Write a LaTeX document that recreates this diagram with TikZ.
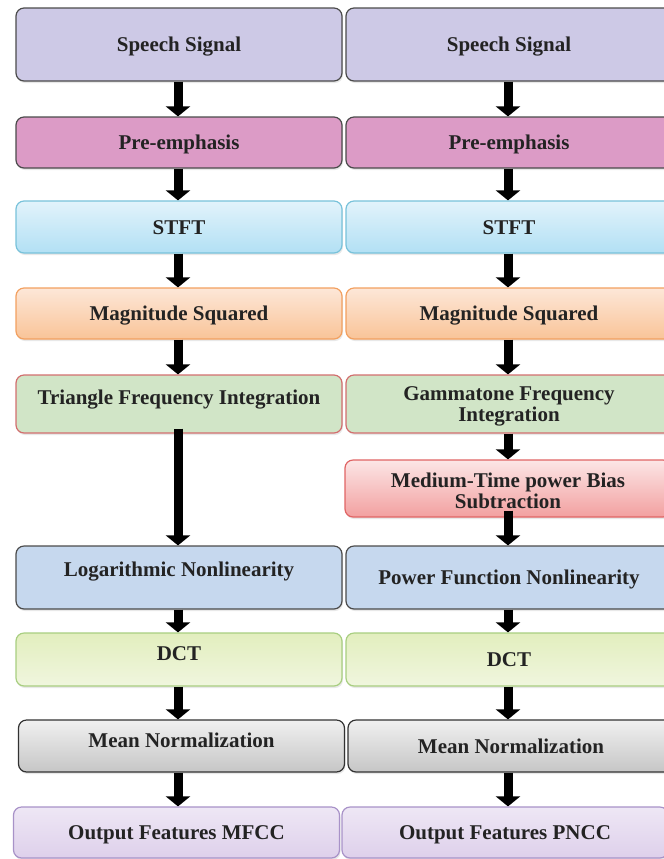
\documentclass[tikz,border=0pt]{standalone}
\usepackage{fontspec}
\setmainfont{Liberation Serif}
\usetikzlibrary{arrows.meta, shadows}

\definecolor{txtgray}{RGB}{35,35,35}
\definecolor{darkline}{RGB}{75,75,75}
\definecolor{sigfill}{RGB}{205,201,230}
\definecolor{prefill}{RGB}{220,155,198}
\definecolor{stfttop}{RGB}{226,243,251}
\definecolor{stftbot}{RGB}{178,224,244}
\definecolor{stftline}{RGB}{120,194,218}
\definecolor{magtop}{RGB}{253,231,216}
\definecolor{magbot}{RGB}{249,196,152}
\definecolor{magline}{RGB}{242,160,96}
\definecolor{intfill}{RGB}{209,229,199}
\definecolor{intline}{RGB}{210,110,110}
\definecolor{medtop}{RGB}{252,230,230}
\definecolor{medbot}{RGB}{242,160,160}
\definecolor{medline}{RGB}{224,100,100}
\definecolor{nonfill}{RGB}{198,216,238}
\definecolor{dcttop}{RGB}{226,238,190}
\definecolor{dctbot}{RGB}{240,246,222}
\definecolor{dctline}{RGB}{168,206,128}
\definecolor{meantop}{RGB}{240,240,240}
\definecolor{meanbot}{RGB}{198,198,198}
\definecolor{meanline}{RGB}{50,50,50}
\definecolor{outtop}{RGB}{238,231,245}
\definecolor{outbot}{RGB}{222,208,235}
\definecolor{outline}{RGB}{168,146,200}

\begin{document}
\begin{tikzpicture}[
  x=0.5pt, y=-0.5pt,
  boxnode/.style={draw, rounded corners=4pt, line width=0.6pt, minimum width=163pt, inner sep=2pt, align=center, text=txtgray, font=\fontsize{10.5}{10.5}\selectfont\bfseries, drop shadow={opacity=0.18, shadow xshift=0.5pt, shadow yshift=-1pt}},
  oneline/.style={text height=7pt, text depth=#1},
  oneline/.default=0pt,
  twoline/.style={text height=#1, text depth=0pt},
  twoline/.default=17.5pt,
  sigbox/.style={boxnode, fill=sigfill, draw=darkline, minimum height=36.5pt},
  prebox/.style={boxnode, fill=prefill, draw=darkline, minimum height=25.5pt},
  stftbox/.style={boxnode, top color=stfttop, bottom color=stftbot, draw=stftline, minimum height=26pt},
  magbox/.style={boxnode, top color=magtop, bottom color=magbot, draw=magline, minimum height=25.5pt},
  intbox/.style={boxnode, fill=intfill, draw=intline, minimum height=29pt},
  medbox/.style={boxnode, top color=medtop, bottom color=medbot, draw=medline, minimum height=28.5pt},
  nonbox/.style={boxnode, fill=nonfill, draw=darkline, minimum height=31.5pt},
  dctbox/.style={boxnode, top color=dcttop, bottom color=dctbot, draw=dctline, minimum height=26.5pt},
  meanbox/.style={boxnode, top color=meantop, bottom color=meanbot, draw=meanline, minimum height=26pt},
  outbox/.style={boxnode, top color=outtop, bottom color=outbot, draw=outline, minimum height=25.5pt},
  flow/.style={-{Triangle[width=12pt,length=5pt]}, line width=4.5pt, black}
]
\path[use as bounding box, clip] (0,0) rectangle (664,859);

% arrow columns
\coordinate (colL) at (178,0);
\coordinate (colR) at (508,0);

% MFCC column
\node[sigbox, oneline]       (SigL)  at (179,44.5)  {Speech Signal};
\node[prebox, oneline]       (PreL)  at (179,142.5) {Pre-emphasis};
\node[stftbox, oneline]      (StftL) at (179,227)   {STFT};
\node[magbox, oneline]       (MagL)  at (179,313.5) {Magnitude Squared};
\node[intbox, oneline=7pt]   (IntL)  at (179,404)   {Triangle Frequency Integration};
\node[nonbox, oneline=8.5pt] (NonL)  at (179,577.5) {Logarithmic Nonlinearity};
\node[dctbox, oneline=6.5pt] (DctL)  at (179,659.5) {DCT};
\node[meanbox, oneline=6pt]  (MeanL) at (181.5,746) {Mean Normalization};
\node[outbox, oneline]       (OutL)  at (176.5,832.5) {Output Features MFCC};

% PNCC column
\node[sigbox, oneline]       (SigR)  at (509,44.5)  {Speech Signal};
\node[prebox, oneline]       (PreR)  at (509,142.5) {Pre-emphasis};
\node[stftbox, oneline]      (StftR) at (509,227)   {STFT};
\node[magbox, oneline]       (MagR)  at (509,313.5) {Magnitude Squared};
\node[intbox, twoline]       (IntR)  at (509,404)   {Gammatone Frequency\\Integration};
\node[medbox, twoline=19.5pt] (MedR) at (508,488.5) {Medium-Time power Bias\\Subtraction};
\node[nonbox, oneline]       (NonR)  at (509,577.5) {Power Function Nonlinearity};
\node[dctbox, oneline]       (DctR)  at (509,659.5) {DCT};
\node[meanbox, oneline]      (MeanR) at (511,746)   {Mean Normalization};
\node[outbox, oneline]       (OutR)  at (505,832.5) {Output Features PNCC};

% Flows (left)
\draw[flow] (SigL.south -| colL)  -- (PreL.north -| colL);
\draw[flow] (PreL.south -| colL)  -- (StftL.north -| colL);
\draw[flow] (StftL.south -| colL) -- (MagL.north -| colL);
\draw[flow] (MagL.south -| colL)  -- (IntL.north -| colL);
\draw[flow, shorten <=-2.5pt] (IntL.south -| colL) -- (NonL.north -| colL);
\draw[flow] (NonL.south -| colL)  -- (DctL.north -| colL);
\draw[flow] (DctL.south -| colL)  -- (MeanL.north -| colL);
\draw[flow] (MeanL.south -| colL) -- (OutL.north -| colL);

% Flows (right)
\draw[flow] (SigR.south -| colR)  -- (PreR.north -| colR);
\draw[flow] (PreR.south -| colR)  -- (StftR.north -| colR);
\draw[flow] (StftR.south -| colR) -- (MagR.north -| colR);
\draw[flow] (MagR.south -| colR)  -- (IntR.north -| colR);
\draw[flow] (IntR.south -| colR)  -- (MedR.north -| colR);
\draw[flow, shorten <=-3.5pt] (MedR.south -| colR) -- (NonR.north -| colR);
\draw[flow] (NonR.south -| colR)  -- (DctR.north -| colR);
\draw[flow] (DctR.south -| colR)  -- (MeanR.north -| colR);
\draw[flow] (MeanR.south -| colR) -- (OutR.north -| colR);

\end{tikzpicture}
\end{document}
